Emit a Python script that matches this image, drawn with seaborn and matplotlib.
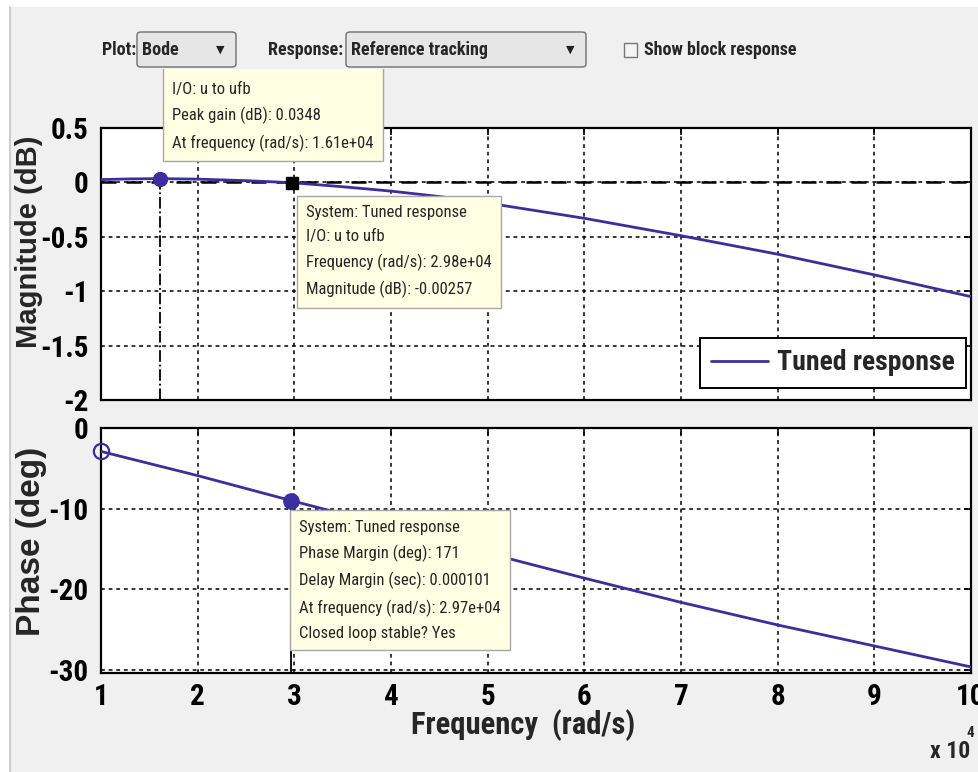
import matplotlib
matplotlib.use("Agg")
import numpy as np
import pandas as pd
import seaborn as sns
import matplotlib.pyplot as plt
from matplotlib import font_manager as fm
from matplotlib.patches import Rectangle, FancyBboxPatch
from matplotlib.lines import Line2D

# ---------------- data (frequency in units of 1e4 rad/s) ----------------
freq_mag = [1.0, 1.3, 1.61, 2.0, 2.5, 2.98, 3.5, 4.0, 4.5, 5.0, 6.0, 7.0, 8.0, 9.0, 10.0]
mag_db = [0.026, 0.032, 0.0348, 0.030, 0.016, -0.00257, -0.04, -0.08, -0.13, -0.19,
          -0.33, -0.49, -0.66, -0.85, -1.05]
freq_ph = [1.0, 2.0, 2.97, 4.0, 5.0, 6.0, 7.0, 8.0, 9.0, 10.0]
phase_deg = [-2.9, -5.9, -9.0, -12.2, -15.5, -18.6, -21.6, -24.4, -27.0, -29.6]

peak_freq, peak_gain = 1.61, 0.0348
cross_freq, cross_mag = 2.98, -0.00257
pm_freq, pm_phase = 2.97, -9.0

x_ticks = [1, 2, 3, 4, 5, 6, 7, 8, 9, 10]
mag_ticks = [0.5, 0, -0.5, -1, -1.5, -2]
mag_ticklabels = ["0.5", "0", "-0.5", "-1", "-1.5", "-2"]
ph_ticks = [0, -10, -20, -30]
ph_ticklabels = ["0", "-10", "-20", "-30"]

# first line of this tip is hidden behind the toolbar in the reference
tip1 = [" ", "I/O: u to ufb", "Peak gain (dB): 0.0348",
        "At frequency (rad/s): 1.61e+04"]
tip2 = ["System: Tuned response", "I/O: u to ufb", "Frequency (rad/s): 2.98e+04",
        "Magnitude (dB): -0.00257"]
tip3 = ["System: Tuned response", "Phase Margin (deg): 171", "Delay Margin (sec): 0.000101",
        "At frequency (rad/s): 2.97e+04", "Closed loop stable? Yes"]

# ---------------- style ----------------
sns.set_theme(style="white")
plt.rcParams["font.family"] = ["Liberation Sans", "DejaVu Sans"]
plt.rcParams["axes.unicode_minus"] = False

STRETCH_RANK = {"condensed": 0, "semi-condensed": 1, "extra-condensed": 2,
                "ultra-condensed": 3}
NAME_RANK = ["Liberation Sans Narrow", "Arial Narrow", "Roboto Condensed",
             "Open Sans Condensed", "Noto Sans", "Noto Sans Condensed", "DejaVu Sans",
             "DejaVu Sans Condensed", "Open Sans", "Roboto"]


def _weight(f):
    w = f.weight
    if isinstance(w, str):
        w = fm.weight_dict.get(w, 400)
    return int(w)


def pick_font(bold):
    best, best_key = None, None
    for f in fm.fontManager.ttflist:
        low = (f.name + " " + f.fname).lower()
        is_narrow = (f.stretch in STRETCH_RANK) or "narrow" in low or "condensed" in low
        if not is_narrow or f.style != "normal":
            continue
        if "italic" in low or "oblique" in low or "mono" in low or "cjk" in low:
            continue
        w = _weight(f)
        target = 700 if bold else 400
        if abs(w - target) > 150:
            continue
        st = STRETCH_RANK.get(f.stretch, 0)
        if "semicondensed" in low or "semi" in low:
            st = max(st, 1)
        if "extracondensed" in low or "extra" in low:
            st = max(st, 2)
        nr = NAME_RANK.index(f.name) if f.name in NAME_RANK else len(NAME_RANK)
        key = (st, nr, abs(w - target))
        if best_key is None or key < best_key:
            best, best_key = f.fname, key
    return best


NB_FILE = pick_font(True)
NR_FILE = pick_font(False)


def fp(bold, size):
    f = NB_FILE if bold else NR_FILE
    if f is not None:
        return fm.FontProperties(fname=f, size=size)
    return fm.FontProperties(family=["Liberation Sans", "DejaVu Sans"],
                             weight="bold" if bold else "normal", size=size * 0.85)


def WIDE_B(s):
    return fm.FontProperties(family=["Liberation Sans", "DejaVu Sans"], weight="bold", size=s)


LINE = "#3b2e9e"
BG = "#f0f0f0"
W, H = 979, 772

fig = plt.figure(figsize=(W / 100, H / 100), dpi=100, facecolor=BG)


def fx(px):
    return px / W


def fy(py):
    return 1 - py / H


ax1 = fig.add_axes([fx(101), fy(400), fx(971) - fx(101), fy(128) - fy(400)])
ax2 = fig.add_axes([fx(101), fy(673), fx(971) - fx(101), fy(428) - fy(673)])

df_mag = pd.DataFrame({"freq": freq_mag, "mag": mag_db})
df_ph = pd.DataFrame({"freq": freq_ph, "phase": phase_deg})

sns.lineplot(data=df_mag, x="freq", y="mag", ax=ax1, color=LINE, lw=2.0,
             label="Tuned response", zorder=4)
sns.lineplot(data=df_ph, x="freq", y="phase", ax=ax2, color=LINE, lw=2.0,
             legend=False, zorder=4)

TICK_FP = fp(True, 21)
for ax in (ax1, ax2):
    ax.set_facecolor("white")
    ax.set_xlim(1, 10)
    ax.set_xticks(x_ticks)
    for s in ax.spines.values():
        s.set_color("black")
        s.set_linewidth(1.6)
    ax.grid(True, color="black", linestyle=(0, (2.5, 2.5)), linewidth=1.1)
    ax.tick_params(direction="in", length=5, width=1.2, top=True, right=True,
                   colors="black")

ax1.set_ylim(-2, 0.5)
ax1.set_yticks(mag_ticks)
ax1.set_yticklabels(mag_ticklabels, fontproperties=TICK_FP)
ax1.tick_params(axis="x", labelbottom=False)
ax1.tick_params(axis="y", pad=9)
ax1.set_xlabel("")

ax2.set_ylim(-30.35, 0)
ax2.set_yticks(ph_ticks)
ax2.set_yticklabels(ph_ticklabels, fontproperties=TICK_FP)
ax2.set_xticklabels([str(t) for t in x_ticks], fontproperties=TICK_FP)
ax2.tick_params(axis="y", pad=9)
ax2.tick_params(axis="x", pad=7)

# reference 0 dB line and data tip guides
ax1.axhline(0, color="black", linestyle=(0, (6, 4)), linewidth=1.8, zorder=3)
ax1.plot([peak_freq, peak_freq], [-2, peak_gain], color="black", ls="-.", lw=1.3, zorder=3)
ax2.plot([pm_freq, pm_freq], [-30.35, pm_phase], color="black", ls="-", lw=1.3, zorder=3)

# markers
ax1.plot([peak_freq], [peak_gain], "o", color=LINE, ms=10, zorder=6)
ax1.plot([cross_freq], [cross_mag], "s", color="black", ms=9, zorder=6)
ax2.plot([freq_ph[0]], [phase_deg[0]], "o", mfc="none", mec=LINE, mew=1.6, ms=11, zorder=6,
         clip_on=False)
ax2.plot([pm_freq], [pm_phase], "o", color=LINE, ms=11, zorder=6)

# labels
ax1.set_ylabel("Magnitude (dB)", fontproperties=WIDE_B(21))
ax2.set_ylabel("Phase (deg)", fontproperties=WIDE_B(24))
ax1.yaxis.set_label_coords((43 - 101) / 870, 0.58)
ax2.yaxis.set_label_coords((47 - 101) / 870, 0.535)
ax2.set_xlabel("Frequency  (rad/s)", fontproperties=fp(True, 22))
ax2.xaxis.set_label_coords((523 - 101) / 870, (673 - 709) / 245)

fig.text(fx(930), fy(758), "x 10", fontproperties=fp(True, 17), ha="left", va="baseline")
fig.text(fx(967), fy(737), "4", fontproperties=fp(True, 11), ha="left", va="baseline")

# legend
leg = ax1.legend(loc="lower right", bbox_to_anchor=(fx(966), fy(388)),
                 bbox_transform=fig.transFigure, borderaxespad=0, frameon=True,
                 fancybox=False, edgecolor="black", framealpha=1, handlelength=2.05,
                 prop=fp(True, 20), borderpad=0.42, handletextpad=0.3)
leg.get_frame().set_linewidth(1.4)

# data tips
TIP_FP = fp(False, 12)
tip_kw = dict(textcoords="offset pixels", ha="left", fontproperties=TIP_FP,
              linespacing=1.75, annotation_clip=False, zorder=20,
              bbox=dict(boxstyle="square,pad=0.55", fc="#ffffe3", ec="#a8a8a8", lw=1.0))
ax1.annotate("\n".join(tip1), xy=(peak_freq, peak_gain), xytext=(12, 27), va="bottom",
             **tip_kw)
ax1.annotate("\n".join(tip2), xy=(cross_freq, cross_mag), xytext=(14, -22), va="top",
             **tip_kw)
ax2.annotate("\n".join(tip3), xy=(pm_freq, pm_phase), xytext=(8, -19), va="top", **tip_kw)


# ---------------- toolbar (GUI chrome) ----------------
def px_rect(x0, y0, x1, y1, **kw):
    r = Rectangle((fx(x0), fy(y1)), fx(x1) - fx(x0), fy(y0) - fy(y1),
                  transform=fig.transFigure, **kw)
    fig.add_artist(r)
    return r


px_rect(10, 0, 979, 69, fc=BG, ec="none", zorder=30)
px_rect(0, 0, 979, 7, fc="white", ec="none", zorder=31)
px_rect(0, 0, 9, 772, fc="white", ec="none", zorder=31)
fig.add_artist(Line2D([fx(10), fx(10)], [0, fy(7)], transform=fig.transFigure,
                      color="#c8c8c8", lw=1.2, zorder=32))

for (x0, x1) in [(137, 236), (346, 586)]:
    b = FancyBboxPatch((fx(x0), fy(67)), fx(x1) - fx(x0), fy(32) - fy(67),
                       boxstyle="round,pad=0,rounding_size=0.004",
                       transform=fig.transFigure, fc="#e6e6e6", ec="#707070", lw=1.0, zorder=33)
    fig.add_artist(b)
    fig.text(fx(x1 - 16), fy(50), "\u25BC", fontsize=8, ha="center", va="center",
             family="DejaVu Sans", color="#222222", zorder=34)

px_rect(624, 43, 637, 57, fc="#f4f4f4", ec="#777777", lw=1.0, zorder=33)

BAR_FP = fp(True, 13)
fig.text(fx(102), fy(50), "Plot:", fontproperties=BAR_FP, ha="left", va="center", zorder=34)
fig.text(fx(142), fy(50), "Bode", fontproperties=BAR_FP, ha="left", va="center", zorder=34)
fig.text(fx(268), fy(50), "Response:", fontproperties=BAR_FP, ha="left", va="center",
         zorder=34)
fig.text(fx(351), fy(50), "Reference tracking", fontproperties=BAR_FP, ha="left",
         va="center", zorder=34)
fig.text(fx(644), fy(50), "Show block response", fontproperties=BAR_FP, ha="left",
         va="center", zorder=34)

fig.savefig("out.png", dpi=100, facecolor=BG)
